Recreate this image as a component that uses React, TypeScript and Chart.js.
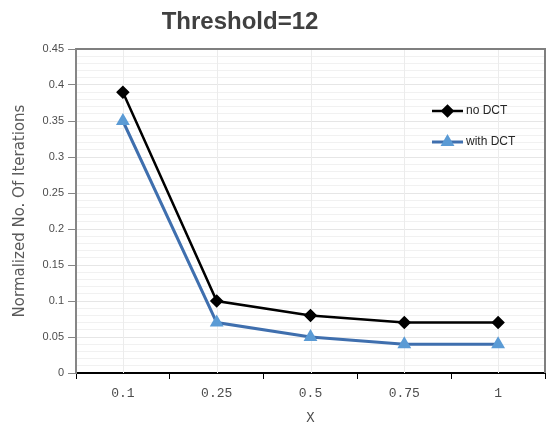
import React, { useEffect, useRef } from "react";
import { Chart, registerables } from "chart.js";
import { drawPoint } from "chart.js/helpers";

Chart.register(...registerables);

const categories = ["0.1", "0.25", "0.5", "0.75", "1"];
const noDCT = [0.39, 0.1, 0.08, 0.07, 0.07];
const withDCT = [0.35, 0.07, 0.05, 0.04, 0.04];
const seriesNames = ["no DCT", "with DCT"];
const chartTitle = "Threshold=12";
const yTitle = "Normalized No. Of Iterations";
const xTitle = "X";
const yMin = 0;
const yMax = 0.45;

const isMajor = (v: number) => Math.round(v * 100) % 5 === 0;

const decorPlugin = {
  id: "decor",
  beforeDatasetsDraw(chart: any) {
    const { ctx, chartArea: a, scales } = chart;
    const xs = scales.x;
    ctx.save();
    ctx.strokeStyle = "#ececec";
    ctx.lineWidth = 1;
    for (let i = 0; i < categories.length; i++) {
      const px = Math.round(xs.getPixelForValue(i)) + 0.5;
      ctx.beginPath();
      ctx.moveTo(px, a.top);
      ctx.lineTo(px, a.bottom);
      ctx.stroke();
    }
    ctx.strokeStyle = "#7f7f7f";
    ctx.lineWidth = 2;
    ctx.beginPath();
    ctx.moveTo(a.left, a.top);
    ctx.lineTo(a.right, a.top);
    ctx.lineTo(a.right, a.bottom);
    ctx.stroke();
    ctx.restore();
  },
  afterDraw(chart: any) {
    const { ctx } = chart;
    ctx.save();
    ctx.font = 'bold 24px "Liberation Sans"';
    ctx.fillStyle = "#404040";
    ctx.textAlign = "center";
    ctx.textBaseline = "alphabetic";
    ctx.fillText(chartTitle, 240, 29);
    const rows = [111, 142];
    chart.data.datasets.forEach((ds: any, i: number) => {
      const y = rows[i];
      ctx.strokeStyle = ds.borderColor;
      ctx.lineWidth = ds.borderWidth;
      ctx.beginPath();
      ctx.moveTo(432, y);
      ctx.lineTo(463, y);
      ctx.stroke();
      ctx.fillStyle = ds.pointBackgroundColor;
      ctx.strokeStyle = ds.pointBorderColor;
      drawPoint(ctx, { pointStyle: ds.pointStyle, rotation: 0, radius: ds.pointRadius, borderWidth: 1 }, 447.5, y);
      ctx.font = '12px "Liberation Sans"';
      ctx.fillStyle = "#262626";
      ctx.textAlign = "left";
      ctx.textBaseline = "middle";
      ctx.fillText(ds.label, 466, y);
    });
    ctx.restore();
  },
};

export default function App() {
  const ref = useRef<HTMLCanvasElement>(null);
  useEffect(() => {
    const canvas = ref.current!;
    const chart = new Chart(canvas, {
      type: "line",
      data: {
        labels: categories,
        datasets: [
          {
            label: seriesNames[0],
            data: noDCT,
            borderColor: "#000000",
            borderWidth: 2.5,
            pointStyle: "rectRot",
            pointRadius: 5,
            pointBackgroundColor: "#000000",
            pointBorderColor: "#000000",
          },
          {
            label: seriesNames[1],
            data: withDCT,
            borderColor: "#3f6fae",
            borderWidth: 3,
            pointStyle: "triangle",
            pointRadius: 5,
            pointBackgroundColor: "#5b9bd5",
            pointBorderColor: "#5b9bd5",
          },
        ],
      },
      options: {
        responsive: false,
        animation: false,
        layout: { autoPadding: false, padding: { left: 7, right: 2, top: 49, bottom: 0 } },
        plugins: { legend: { display: false }, title: { display: false }, tooltip: { enabled: false } },
        scales: {
          x: {
            type: "category",
            offset: true,
            grid: { offset: true, drawOnChartArea: false, tickLength: 6, tickColor: "#000", tickWidth: 1 },
            border: { color: "#000", width: 2 },
            ticks: { color: "#4d4d4d", font: { family: "Liberation Mono", size: 13 }, padding: 7 },
            title: {
              display: true,
              text: xTitle,
              color: "#4d4d4d",
              font: { family: "Liberation Mono", size: 14 },
              padding: { top: 0, bottom: 0 },
            },
            afterFit: (s: any) => {
              s.height = 54;
              s.paddingLeft = 0;
              s.paddingRight = 0;
            },
          },
          y: {
            min: yMin,
            max: yMax,
            grid: {
              color: (c: any) => (isMajor(c.tick?.value ?? 0) ? "#e6e6e6" : "#f1f1f1"),
              tickColor: (c: any) => (isMajor(c.tick?.value ?? 0) ? "#868686" : "rgba(0,0,0,0)"),
              tickLength: 8,
            },
            border: { color: "#868686", width: 2 },
            ticks: {
              stepSize: 0.01,
              autoSkip: false,
              padding: 4,
              color: "#4d4d4d",
              font: { family: "Liberation Sans", size: 11 },
              callback: (v: any) => (isMajor(Number(v)) ? String(Number(Number(v).toFixed(2))) : ""),
            },
            title: {
              display: true,
              text: yTitle,
              color: "#595959",
              font: { family: "DejaVu Sans", size: 15 },
              padding: { top: 4, bottom: 0 },
            },
            afterFit: (s: any) => {
              s.width = 69;
            },
          },
        },
      },
      plugins: [decorPlugin],
    });
    return () => chart.destroy();
  }, []);
  return (
    <div style={{ position: "absolute", left: 0, top: 0 }}>
      <canvas ref={ref} width={547} height={427} style={{ width: 547, height: 427 }} />
    </div>
  );
}
